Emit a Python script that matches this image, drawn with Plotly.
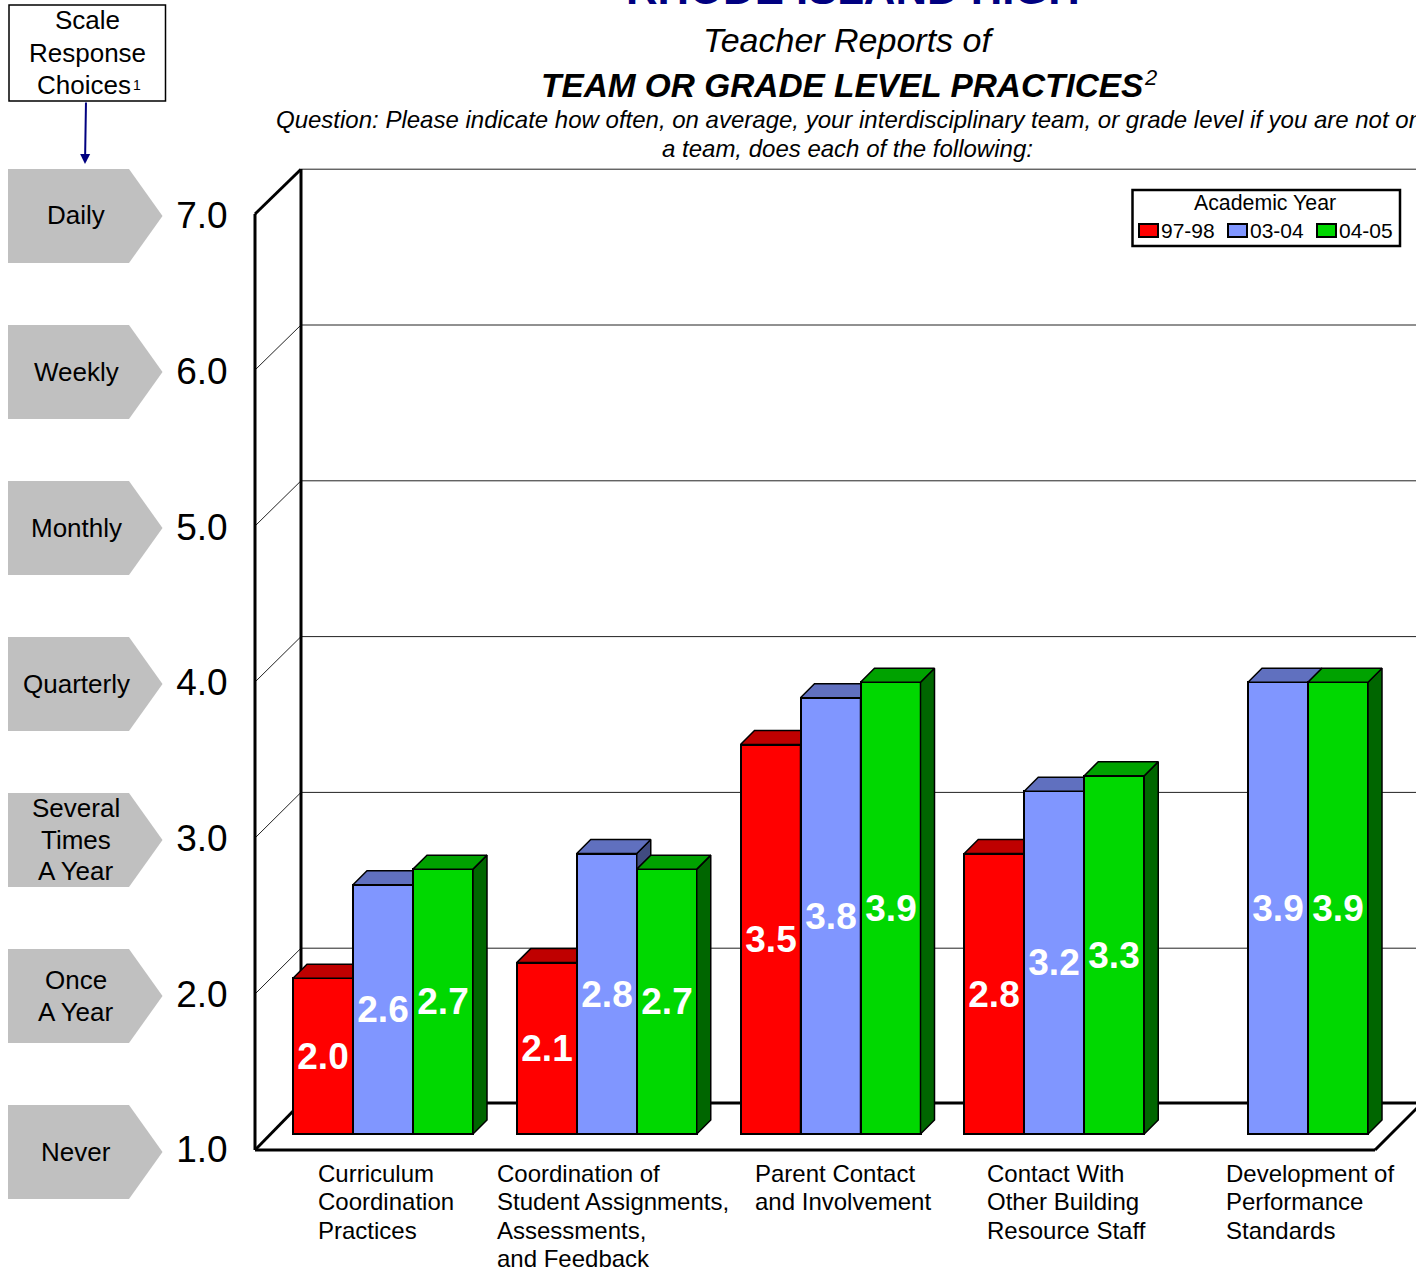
import plotly.graph_objects as go

CATEGORIES = [
    ["Curriculum", "Coordination", "Practices"],
    ["Coordination of", "Student Assignments,", "Assessments,", "and Feedback"],
    ["Parent Contact", "and Involvement"],
    ["Contact With", "Other Building", "Resource Staff"],
    ["Development of", "Performance", "Standards"],
]
YEARS = ["97-98", "03-04", "04-05"]
V_9798 = [2.0, 2.1, 3.5, 2.8, None]
V_0304 = [2.6, 2.8, 3.8, 3.2, 3.9]
V_0405 = [2.7, 2.7, 3.9, 3.3, 3.9]
LEVELS = [1, 2, 3, 4, 5, 6, 7]
SCALE = [["Never"], ["Once", "A Year"], ["Several", "Times", "A Year"], ["Quarterly"],
         ["Monthly"], ["Weekly"], ["Daily"]]

W, H = 1416, 1275
FONT = "Liberation Sans"
PX_CAT = 223.75
PX_VAL = 155.8
def cx(px): return (px - 383) / PX_CAT
def vy(px): return 1 + (1134 - px) / PX_VAL
def px_x(px): return px / W
def px_y(px): return 1 - px / H

BAR_W = 60 / PX_CAT
DX = 14 / PX_CAT
DY = 14 / PX_VAL
OFFS = [-BAR_W, 0, BAR_W]
FRONT = ["#FF0000", "#8096FF", "#00D800"]
TOP = ["#BF0000", "#6070BF", "#00A200"]
SIDE = ["#800000", "#404B80", "#006600"]

fig = go.Figure()
axes = [("x", "y"), ("x2", "y2"), ("x3", "y3")]
for s, vals in enumerate([V_9798, V_0304, V_0405]):
    xa, ya = axes[s]
    xs = [i + OFFS[s] for i, v in enumerate(vals) if v is not None]
    ys = [v for v in vals if v is not None]
    fig.add_trace(go.Bar(
        x=xs, y=[v - 1 for v in ys], base=[1] * len(ys), width=BAR_W, name=YEARS[s],
        marker=dict(color=FRONT[s], line=dict(color="black", width=2)),
        text=[f"{v:.1f}" for v in ys], textposition="inside", insidetextanchor="middle",
        textangle=0, constraintext="none", cliponaxis=False, showlegend=False,
        textfont=dict(family=FONT, size=37, color="white", weight="bold"),
        xaxis=xa, yaxis=ya, hoverinfo="skip"))
    tx, ty, sx, sy = [], [], [], []
    for x, v in zip(xs, ys):
        l, r = x - BAR_W / 2, x + BAR_W / 2
        tx += [l, r, r + DX, l + DX, l, None]
        ty += [v, v, v + DY, v + DY, v, None]
        sx += [r, r + DX, r + DX, r, r, None]
        sy += [v, v + DY, 1 + DY, 1, v, None]
    for px_, py_, c in [(sx, sy, SIDE[s]), (tx, ty, TOP[s])]:
        fig.add_trace(go.Scatter(x=px_, y=py_, mode="lines", fill="toself", fillcolor=c,
                                 line=dict(color="black", width=1.5), showlegend=False,
                                 hoverinfo="skip", xaxis=xa, yaxis=ya))

# carrier trace for the front-plane value axis
fig.add_trace(go.Scatter(x=[None], y=[None], xaxis="x", yaxis="y4", showlegend=False, hoverinfo="skip"))

shapes = []
def line(x0, y0, x1, y1, w=1, c="#222222"):
    shapes.append(dict(type="line", xref="x", yref="y", x0=cx(x0), y0=vy(y0), x1=cx(x1), y1=vy(y1),
                       line=dict(color=c, width=w), layer="below"))
for lv in LEVELS:
    back = 1104 - (lv - 1) * 155.8
    front = 1150 - (lv - 1) * 156
    if lv > 1:
        line(301, back, W + 5, back, 1)
        line(255, front, 301, back, 3 if lv == 7 else 1, "black" if lv == 7 else "#222222")
line(255, 214, 255, 1150, 3, "black")
line(301, 169, 301, 1103, 3, "black")
line(255, 1150, 301, 1103, 3, "black")
line(301, 1103, W + 5, 1103, 3, "black")
line(255, 1150, 1375, 1150, 3, "black")
line(1375, 1150, 1420, 1105, 3, "black")

ann = []
def text(s, x, y, size, anchor="center", color="black", bold=False, italic=False):
    ann.append(dict(text=s, xref="paper", yref="paper", x=px_x(x), y=px_y(y), xanchor=anchor, yanchor="middle",
                    showarrow=False, borderpad=0, borderwidth=0,
                    font=dict(family=FONT, size=size, color=color, weight="bold" if bold else "normal",
                              style="italic" if italic else "normal")))
def rect(x0, y0, x1, y1, fill, w):
    shapes.append(dict(type="rect", xref="paper", yref="paper", x0=px_x(x0), x1=px_x(x1), y0=px_y(y0), y1=px_y(y1),
                       line=dict(color="black", width=w), fillcolor=fill))

# titles
text("RHODE ISLAND HIGH", 853, -11.5, 43.7, color="#000080", bold=True)
text("Teacher Reports of", 849, 40, 34, italic=True)
text("TEAM OR GRADE LEVEL PRACTICES", 842, 85.5, 33.4, bold=True, italic=True)
text("2", 1150, 78, 22, italic=True)
text("Question: Please indicate how often, on average, your interdisciplinary team, or grade level if you are not on",
     276, 119.5, 24, anchor="left", italic=True)
text("a team, does each of the following:", 847, 149, 24, italic=True)

# scale box
rect(9, 5, 165.5, 101, "white", 1.5)
text("Scale", 87, 20, 26)
text("Response", 87, 53, 26)
text("Choices", 37, 85, 26, anchor="left")
text("1", 133, 85, 14, anchor="left")
ann.append(dict(xref="paper", yref="paper", x=px_x(85), y=px_y(164), axref="pixel", ayref="pixel", ax=1, ay=-63,
                showarrow=True, arrowhead=2, arrowsize=1, arrowwidth=2, arrowcolor="#000080", text=""))

# legend
rect(1132.5, 190, 1400, 246, "white", 2.5)
text("Academic Year", 1264.5, 203, 21.3)
for name, col, sx0 in zip(YEARS, FRONT, [1139, 1228, 1317]):
    rect(sx0, 224, sx0 + 19, 237, col, 2)
    text(name, sx0 + 22, 231, 21, anchor="left")

# chevrons
for lv, lines in zip(LEVELS, SCALE):
    c = 1152 - (lv - 1) * 156
    X0, X1, X2 = px_x(8), px_x(129), px_x(162.5)
    T, M, B = px_y(c - 47), px_y(c), px_y(c + 47)
    shapes.append(dict(type="path", xref="paper", yref="paper", layer="below",
                       path=f"M{X0},{T} L{X1},{T} L{X2},{M} L{X1},{B} L{X0},{B} Z",
                       fillcolor="#C0C0C0", line=dict(width=0)))
    n = len(lines)
    for j, s in enumerate(lines):
        text(s, 76, c - 0.5 + (j - (n - 1) / 2) * 32, 26)

# category labels
CAT_X = [318, 497, 755, 987, 1226]
for xp, lines in zip(CAT_X, CATEGORIES):
    for j, s in enumerate(lines):
        text(s, xp, 1173.3 + j * 28.4, 24, anchor="left")

rng_x = [cx(0), cx(W)]
rng_y = [vy(H), vy(0)]
hidden = dict(visible=False, fixedrange=True)
fig.update_layout(
    width=W, height=H, margin=dict(l=0, r=0, t=0, b=0), autosize=False, showlegend=False,
    paper_bgcolor="white", plot_bgcolor="rgba(0,0,0,0)", barmode="overlay", bargap=0,
    shapes=shapes, annotations=ann,
    xaxis=dict(range=rng_x, domain=[0, 1], **hidden),
    yaxis=dict(range=rng_y, domain=[0, 1], **hidden),
    xaxis2=dict(range=rng_x, overlaying="x", **hidden),
    yaxis2=dict(range=rng_y, overlaying="y", **hidden),
    xaxis3=dict(range=rng_x, overlaying="x", **hidden),
    yaxis3=dict(range=rng_y, overlaying="y", **hidden),
    yaxis4=dict(range=[1 - 125.5 / 155.7, 1 + 1149.5 / 155.7], overlaying="y", anchor="free",
                position=255 / W, side="left", tickvals=LEVELS, ticktext=[f"{v:.1f}" for v in LEVELS],
                ticks="outside", ticklen=20, tickcolor="rgba(0,0,0,0)", showgrid=False, zeroline=False,
                showline=False, fixedrange=True,
                tickfont=dict(family=FONT, size=37, color="black")),
)
fig.write_html("out.html", config=dict(displayModeBar=False),
               post_script="document.body.style.margin='0';document.body.style.overflow='hidden';")
